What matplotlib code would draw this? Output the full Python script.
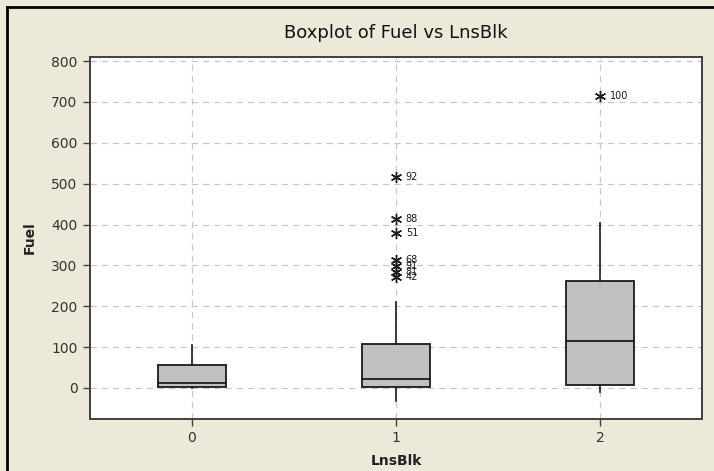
import matplotlib
matplotlib.use("Agg")
import matplotlib.pyplot as plt
from matplotlib.lines import Line2D

# ---- data ----
categories = ["0", "1", "2"]
q1 = [3, 3, 7]
median = [11, 22, 116]
q3 = [57, 107, 262]
whisker_low = [0, -33, -9]
whisker_high = [105, 211, 404]
outlier_values = [[], [516, 413, 379, 313, 299, 284, 272], [714]]
outlier_labels = [[], ["92", "88", "51", "68", "91", "81", "42"], ["100"]]
y_ticks = [0, 100, 200, 300, 400, 500, 600, 700, 800]

bg = "#ECE9D8"
fig = plt.figure(figsize=(7.14, 4.71), dpi=100, facecolor=bg)
ax = fig.add_axes([90/714, 1-419/471, (702-90)/714, (419-57)/471])
ax.set_facecolor("white")

stats = []
for i in range(len(categories)):
    stats.append(dict(med=median[i], q1=q1[i], q3=q3[i],
                      whislo=whisker_low[i], whishi=whisker_high[i],
                      fliers=[], label=categories[i]))
positions = list(range(len(categories)))
bp = ax.bxp(stats, positions=positions, widths=0.335, patch_artist=True,
            showcaps=False, showfliers=False,
            boxprops=dict(facecolor="#C0C0C0", edgecolor="#1a1a1a", linewidth=1.3),
            medianprops=dict(color="#1a1a1a", linewidth=1.3),
            whiskerprops=dict(color="#1a1a1a", linewidth=1.2), zorder=3)

for i, (vals, labs) in enumerate(zip(outlier_values, outlier_labels)):
    if vals:
        ax.plot([positions[i]] * len(vals), vals, linestyle="none",
                marker=(6, 2, 0), markersize=8, markeredgewidth=1.0,
                color="#1a1a1a", zorder=4)
        for v, l in zip(vals, labs):
            ax.annotate(l, (positions[i], v), xytext=(7, 0),
                        textcoords="offset points", va="center", ha="left",
                        fontsize=7, color="#1a1a1a")

ax.set_xlim(-0.5, 2.5)
ax.set_ylim(-76, 810)
ax.set_yticks(y_ticks)
ax.set_xticks(positions)
ax.set_xticklabels(categories)
ax.grid(True, color="#C8C8C8", linestyle=(0, (5, 4)), linewidth=0.9)
ax.set_axisbelow(True)
for s in ax.spines.values():
    s.set_color("#404040")
    s.set_linewidth(1.4)
ax.tick_params(direction="out", length=5, width=1.0, color="#404040",
               labelsize=10, labelcolor="#333333", pad=4)

ax.set_title("Boxplot of Fuel vs LnsBlk", fontsize=13, color="#111111", pad=14)
ax.set_xlabel("LnsBlk", fontsize=10, fontweight="bold", color="#222222", labelpad=6)
ax.set_ylabel("Fuel", fontsize=10, fontweight="bold", color="#222222", labelpad=10)

# outer border (left and top edges of the screenshot frame)
fig.add_artist(Line2D([7/714, 7/714], [0, 1-7/471], color="black", linewidth=2, transform=fig.transFigure))
fig.add_artist(Line2D([7/714, 1], [1-7/471, 1-7/471], color="black", linewidth=2, transform=fig.transFigure))

fig.savefig("out.png", dpi=100, facecolor=bg)
